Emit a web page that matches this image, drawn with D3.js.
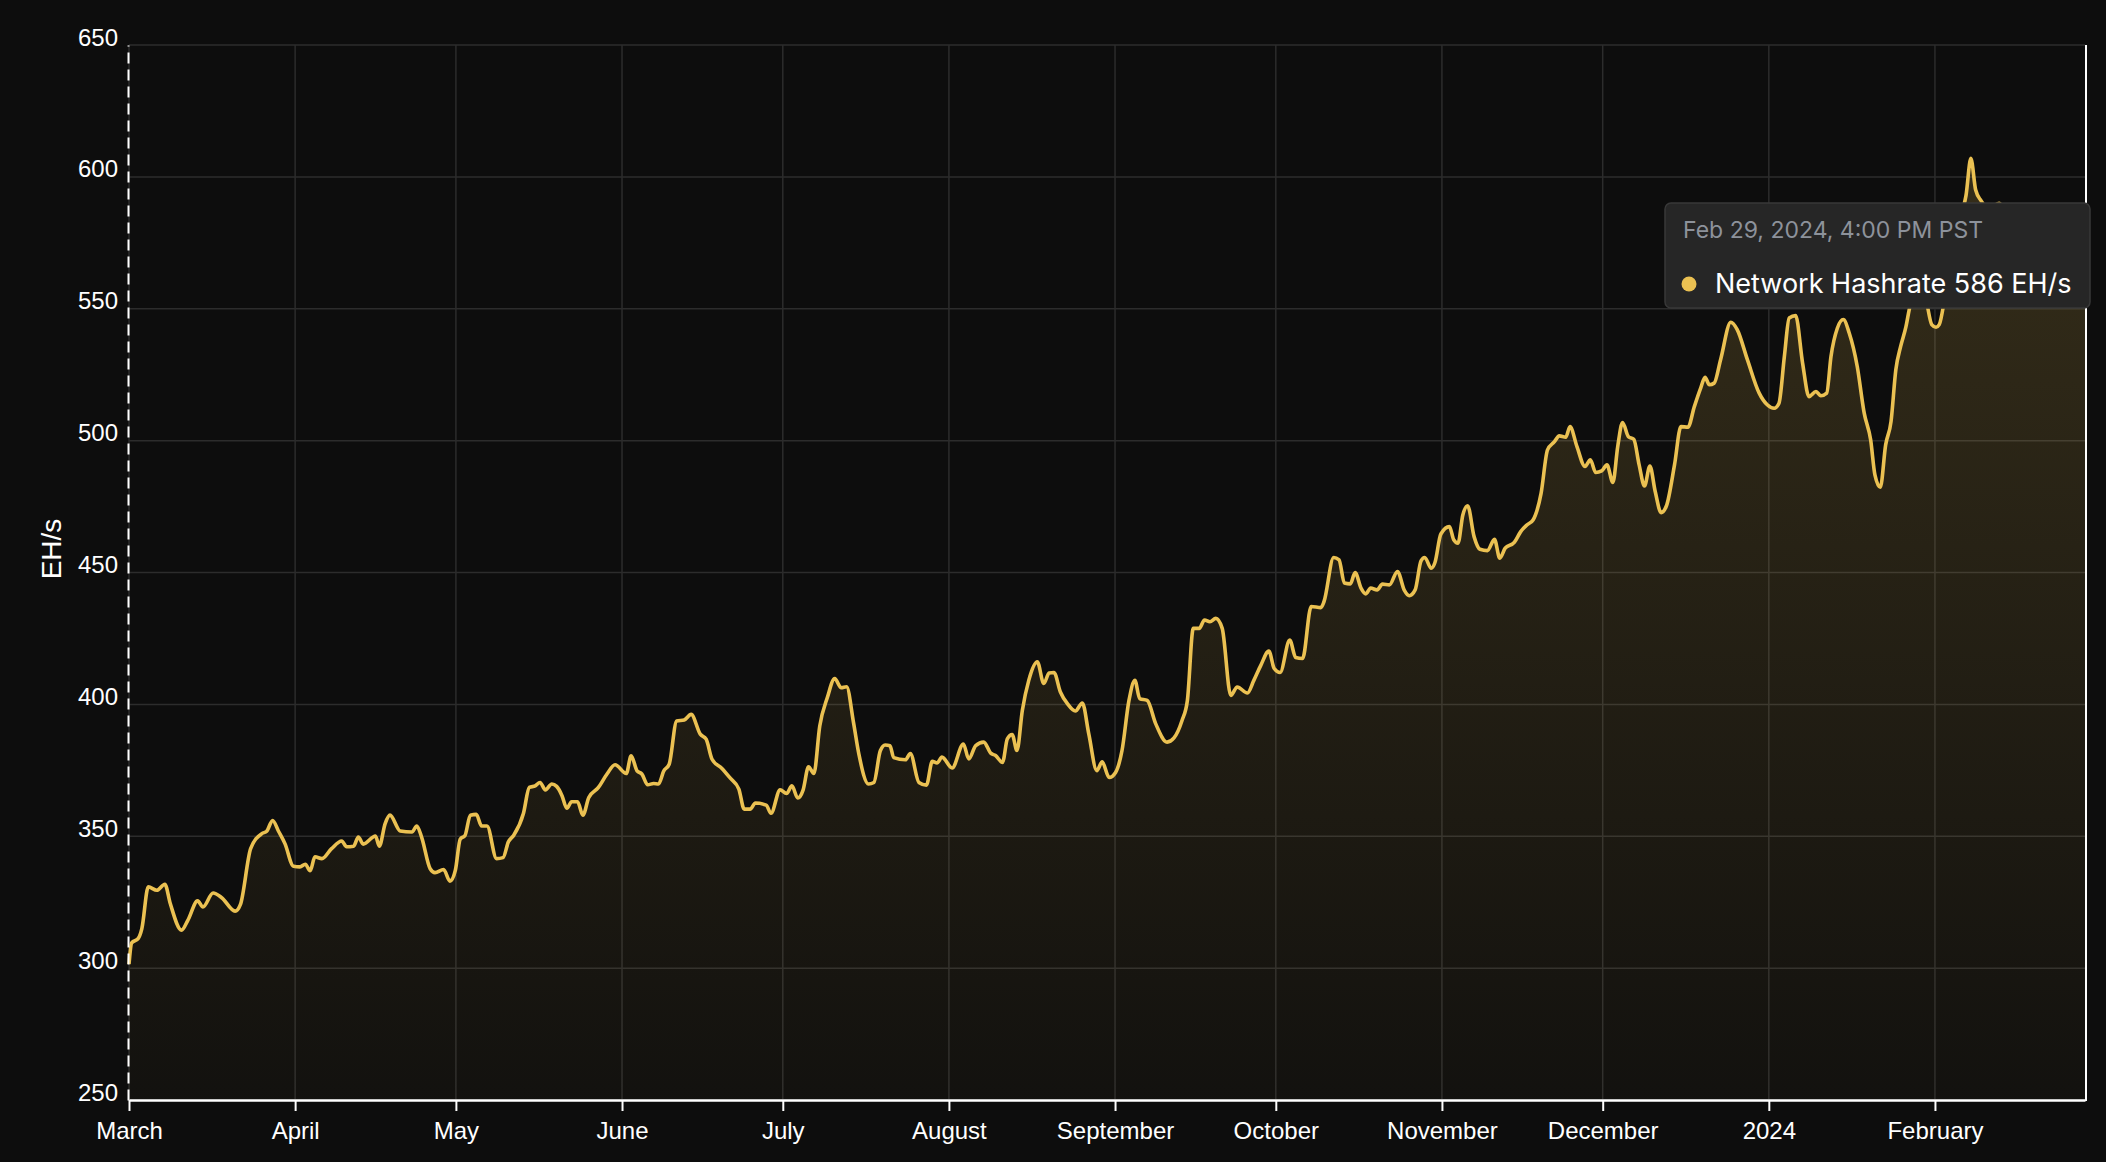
<!DOCTYPE html>
<html><head><meta charset="utf-8">
<script src="https://cdn.jsdelivr.net/npm/d3@7"></script>
<style>html,body{margin:0;padding:0;background:#0d0d0d;overflow:hidden}</style>
</head><body>
<svg id="chart" width="2106" height="1162"></svg>
<script>
// ---------- data ----------
const startDate = "2023-03-01";
const endDate = "2024-02-29";
// days since startDate
const dayOffsets = [
0,0.5,1.7,2.4,3.6,5.2,6.7,7.7,9.8,11,12.8,13.8,15.7,17.3,19.8,20.8,22.7,24.8,25.7,26.8,27.9,29.1,30.7,31.9,32.9,33.8,34.7,36,37.8,39.7,40.6,41.9,42.8,43.7,46,46.7,47.8,48.7,50.6,52.8,53.7,54.6,56.2,57.1,58.7,59.9,60.9,61.8,62.7,63.7,64.8,65.8,66.8,68.6,69.8,70.8,71.8,73.6,74.7,75.8,
76.7,77.7,78.9,79.8,80.8,81.7,82.6,83.7,84.7,85.8,87.6,89.2,90.7,92.8,93.7,94.8,95.7,96.8,97.9,98.8,99.8,100.8,102.2,103.6,104.9,106.6,107.7,108.8,110.6,112.2,113.8,114.8,115.9,116.9,118.9,119.8,121.5,122.7,123.7,124.8,125.8,126.8,127.8,128.9,130.3,131.7,132.9,133.9,135.2,136.2,138,139,140.2,141.1,142,142.7,144.9,145.8,147.4,
148.8,149.9,150.8,151.7,153.6,155.7,156.7,158,159.5,160.8,161.7,163,163.9,164.8,165.7,166.7,167.9,169.5,170.7,171.7,172.6,173.8,175.1,176.6,177.9,179.1,180.6,181.6,182.9,184.1,185.3,186.6,187.7,188.6,190,191.6,193.7,195,196.5,197.5,198.6,199.7,200.7,201.7,202.8,204,205.6,206.8,208.7,209.9,211.2,212.7,213.7,214.8,216.6,217.7,219,220.6,222.4,
223,224.8,225.8,226.8,227.9,228.8,229.9,230.8,231.7,232.9,233.9,235.2,236.7,238,238.9,240,241.1,241.8,243,243.7,244.8,246.4,247.2,248,248.9,249.8,251,252.1,253.5,254.8,255.8,256.8,258.5,259.7,260.9,262,263.5,264.7,266,266.9,268.1,268.9,270.2,271.7,272.7,273.7,274.8,275.8,276.9,277.8,278.7,279.8,280.8,281.8,282.8,283.8,284.8,285.9,286.9,288.4,289.6,290.9,292.1,293.3,
294.1,294.9,295.8,297,298.9,300.1,302,304.2,305.7,307,307.9,308.9,309.8,311,312.3,313.5,314.8,315.7,316.8,317.6,318.8,319.9,321,322.5,323.8,325,325.8,326.8,327.8,328.8,329.7,330.6,331.6,332.2,333.5,334.5,335.5,336.4,337.2,337.8,339,340.5,342,342.8,343.7,344.6,345.6,347,349,351,353,355,357,359,361,363,365
];
// Network hashrate, EH/s
const hashrate = [
301.5,309.6,311.2,315,330.8,329.5,331.8,324.5,314.4,318.2,325.5,323.2,328.5,326.7,321.6,324.2,345.3,351,351.9,356,351.9,347.2,338.6,338.4,339.4,336.9,342.2,341.5,345.3,348.2,346,346.2,349.7,347,350.1,346.2,354.8,358,352,351.6,353.9,349.7,337.7,336.2,337.4,333,337.1,348.9,350.3,358,358.3,353.9,353.9,341.5,341.9,347.9,350.4,358.6,368.5,369.1,
370.4,367.6,369.8,368.9,365.4,360.6,363.1,363.1,358,364.7,368.5,373.6,377.1,373.8,380.5,374.8,373.6,369.5,370,369.8,374.8,377.3,393.7,394.1,396.2,388.7,386.8,379.2,375.8,372,367.9,360.3,360.3,362.6,361.8,358.7,367.6,366.2,369.1,364.5,367.6,376.3,373.8,391.8,402.5,409.8,406.3,406.7,393.1,381.1,369.8,370.4,382.4,384.6,384.3,379.8,379,381.4,370.4,
369.4,378.4,377.8,380,375.9,385,379.3,384.4,385.7,381.5,380.6,378,386.9,388.6,382.5,397.7,409.1,416.1,407.9,411.9,412.1,404.7,400.3,397.5,400.5,388.8,374.9,378.2,372.3,374.2,382.5,401.5,409.1,402.2,401.5,392.6,385.7,387.3,393.9,401.5,428.8,428.8,432,431.3,432.6,428.8,403.4,406.6,404.3,409.1,414.8,420.2,413.6,412.1,424.4,417.8,417.4,437.1,436.7,
439,455.7,454.8,446,445.7,450,444.1,441.9,444.1,443.4,445.6,445.3,450.4,443.2,441.2,443.4,454.4,455.7,451.6,453.8,464.6,467.4,462.4,461.1,471.8,475.3,463.6,458.8,458.3,462.6,455.4,459.2,461.4,465.5,468.1,469.9,480,496.5,499.6,501.8,501.3,505.3,497.7,490.2,492.7,487.9,488.5,490.8,484.1,497.7,506.9,501.5,500.5,490.8,482.8,490.4,480.7,472.7,475.3,490.8,505.3,505.1,512.9,520,
524,521.2,521.8,530.7,544.9,542.1,530.7,518,513.6,512.3,514.2,531.9,546.5,547.4,529.4,516.7,518.6,517,518,531.9,542.7,545.9,540.8,528.1,510.4,500.3,487,482.3,498.4,507.2,526.9,535.7,543.3,549.7,560,562,552,544,543,544,556,570,586,593,607,595,591,588,590,585,588,583,586,582,585,588,586
];
const xTickLabels = ["March","April","May","June","July","August","September","October","November","December","2024","February"];
const yTickValues = [250,300,350,400,450,500,550,600,650];
const yAxisTitle = "EH/s";
const tooltipDate = "Feb 29, 2024, 4:00 PM PST";
const tooltipSeries = "Network Hashrate";
const tooltipValue = 586;
const tooltipUnit = "EH/s";

// ---------- layout ----------
const plotLeft = 129, plotRight = 2085, plotTop = 45, plotBottom = 1100;
const lineColor = "#ebc152";
const axisFont = "'Liberation Sans', Arial, Helvetica, sans-serif";
const tipFont = "Inter, 'Noto Sans', sans-serif";

const svg = d3.select("#chart");
svg.append("rect").attr("width",2106).attr("height",1162).attr("fill","#0d0d0d");

const parse = d3.timeParse("%Y-%m-%d");
const t0 = parse(startDate), t1 = parse(endDate);
const x = d3.scaleTime().domain([t0, t1]).range([plotLeft, plotRight]);
const y = d3.scaleLinear().domain([250, 650]).range([plotBottom, plotTop]);

const data = dayOffsets.map((d, i) => ({date: new Date(t0.getTime() + d * 864e5), v: hashrate[i]}));
const monthTicks = d3.timeMonth.range(t0, d3.timeDay.offset(t1, 1));

// gradient
const defs = svg.append("defs");
const grad = defs.append("linearGradient").attr("id","areaGrad")
  .attr("gradientUnits","userSpaceOnUse").attr("x1",0).attr("x2",0)
  .attr("y1",plotTop).attr("y2",plotBottom);
grad.append("stop").attr("offset","0%").attr("stop-color",lineColor).attr("stop-opacity",0.2);
grad.append("stop").attr("offset","100%").attr("stop-color",lineColor).attr("stop-opacity",0.025);

// grid
const grid = svg.append("g").attr("stroke","#2c2c2c").attr("stroke-width",1.5);
grid.selectAll("line.h").data(yTickValues).join("line").attr("class","h")
  .attr("x1",plotLeft).attr("x2",plotRight).attr("y1",d=>y(d)).attr("y2",d=>y(d));
grid.selectAll("line.v").data(monthTicks).join("line").attr("class","v")
  .attr("x1",d=>x(d)).attr("x2",d=>x(d)).attr("y1",plotTop).attr("y2",plotBottom);

// area + line
const area = d3.area().x(d=>x(d.date)).y0(plotBottom).y1(d=>y(d.v)).curve(d3.curveMonotoneX);
const line = d3.line().x(d=>x(d.date)).y(d=>y(d.v)).curve(d3.curveMonotoneX);
svg.append("path").datum(data).attr("d",area).attr("fill","url(#areaGrad)");
svg.append("path").datum(data).attr("d",line).attr("fill","none")
  .attr("stroke",lineColor).attr("stroke-width",3.6).attr("stroke-linejoin","round");

// x axis
const xAxis = svg.append("g").attr("transform",`translate(0,${plotBottom})`)
  .call(d3.axisBottom(x).tickValues(monthTicks).tickFormat((d,i)=>xTickLabels[i])
    .tickSize(11).tickSizeOuter(0).tickPadding(11));
xAxis.select(".domain").attr("stroke","#fff").attr("stroke-width",2.5);
xAxis.selectAll(".tick line").attr("stroke","#fff").attr("stroke-width",2);
xAxis.selectAll(".tick text").attr("fill","#fff").style("font-family",axisFont).style("font-size","24px");

// y axis
const yAxis = svg.append("g").attr("transform",`translate(${plotLeft-1},0)`)
  .call(d3.axisLeft(y).tickValues(yTickValues).tickSize(0).tickPadding(10));
yAxis.select(".domain").attr("stroke","#fff").attr("stroke-width",2).attr("stroke-dasharray","11,6");
yAxis.selectAll(".tick text").attr("fill","#fff").attr("dy","0").style("font-family",axisFont).style("font-size","24px");

svg.append("text").attr("transform","translate(61,549) rotate(-90)")
  .attr("text-anchor","middle").attr("fill","#fff")
  .style("font-family",axisFont).style("font-size","28px").text(yAxisTitle);

// right border
svg.append("line").attr("x1",plotRight+1).attr("x2",plotRight+1).attr("y1",plotTop).attr("y2",plotBottom+1)
  .attr("stroke","#fff").attr("stroke-width",2);

// tooltip
const tip = svg.append("g").attr("transform","translate(1665,203)");
tip.append("rect").attr("width",425).attr("height",105).attr("rx",6)
  .attr("fill","#262626").attr("stroke","#383838").attr("stroke-width",1.5);
tip.append("text").attr("x",18).attr("y",35).attr("fill","#8d929b")
  .style("font-family",tipFont).style("font-size","23px").text(tooltipDate);
tip.append("circle").attr("cx",24).attr("cy",81).attr("r",7.5).attr("fill",lineColor);
tip.append("text").attr("x",50).attr("y",90).attr("fill","#fff")
  .style("font-family",tipFont).style("font-size","27px")
  .text(`${tooltipSeries} ${tooltipValue} ${tooltipUnit}`);
</script>
</body></html>
